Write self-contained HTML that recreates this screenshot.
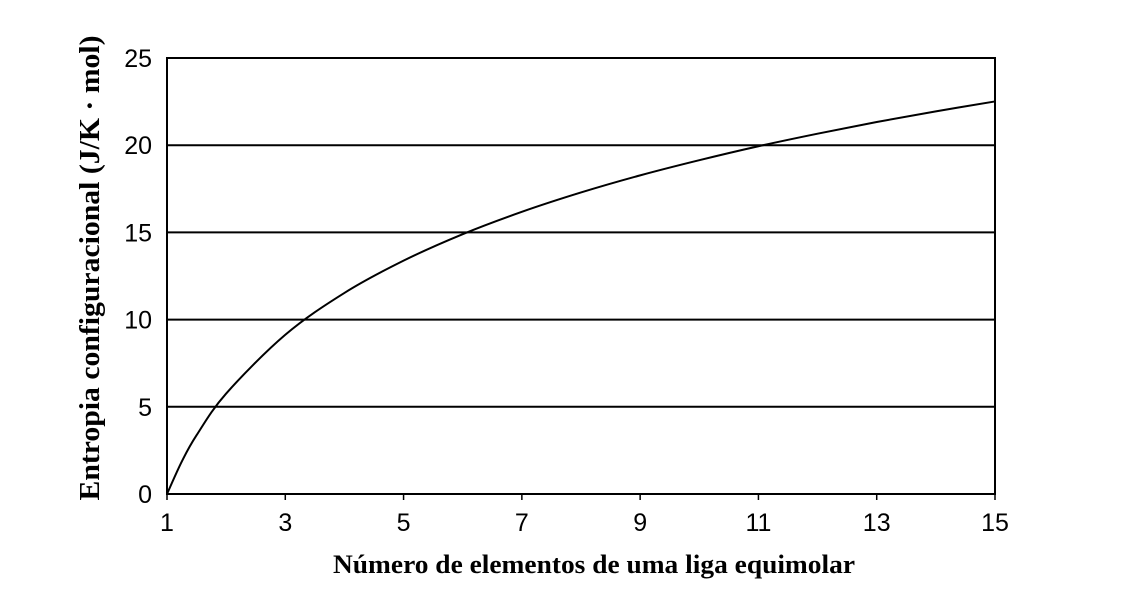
<!DOCTYPE html>
<html><head><meta charset="utf-8"><style>
body{margin:0;background:#fff;}
svg{display:block;}
</style></head><body>
<svg width="1141" height="611" id="chart" xmlns="http://www.w3.org/2000/svg">
<g id="grid"></g>
<rect x="167" y="58" width="828" height="436" fill="none" stroke="#000" stroke-width="2"/>
<g id="ticks" font-family="Liberation Sans, sans-serif" font-size="25" fill="#000"></g>
<path id="curve" fill="none" stroke="#000" stroke-width="2"/>
<text transform="translate(99,268) rotate(-90)" text-anchor="middle" font-family="Liberation Serif, serif" font-weight="bold" font-size="29" textLength="465" lengthAdjust="spacingAndGlyphs">Entropia configuracional  (J/K · mol)</text>
<text x="594" y="573" text-anchor="middle" font-family="Liberation Serif, serif" font-weight="bold" font-size="26" textLength="522" lengthAdjust="spacingAndGlyphs">Número de elementos de uma liga equimolar</text>
</svg>
<script>
const nValues=[1,1.25,1.5,2,3,4,5,6,7,8,9,10,11,12,13,14,15];
const entropyValues=[0,1.86,3.37,5.76,9.13,11.53,13.38,14.9,16.18,17.29,18.27,19.14,19.94,20.66,21.33,21.94,22.51];
const xTicks=[1,3,5,7,9,11,13,15];
const yTicks=[0,5,10,15,20,25];
const NS="http://www.w3.org/2000/svg";
const xs=v=>167+(v-1)/14*828;
const ys=v=>494-v/25*436;
const grid=document.getElementById('grid'),ticks=document.getElementById('ticks');
yTicks.forEach(t=>{
  if(t>0&&t<25){const l=document.createElementNS(NS,'line');
  
  
  l.setAttribute('x1',167);l.setAttribute('x2',995);l.setAttribute('y1',ys(t));l.setAttribute('y2',ys(t));
  l.setAttribute('stroke','#000');l.setAttribute('stroke-width','2');grid.appendChild(l);}
  const tx=document.createElementNS(NS,'text');
  
  
  tx.setAttribute('x',152);tx.setAttribute('y',ys(t)+9);tx.setAttribute('text-anchor','end');tx.textContent=t;ticks.appendChild(tx);
});
xTicks.forEach(t=>{
  const tx=document.createElementNS(NS,'text');
  
  
  tx.setAttribute('x',xs(t));tx.setAttribute('y',531);tx.setAttribute('text-anchor','middle');tx.textContent=t;ticks.appendChild(tx);
  const l=document.createElementNS(NS,'line');
  
  
  l.setAttribute('x1',xs(t));l.setAttribute('x2',xs(t));l.setAttribute('y1',494);l.setAttribute('y2',500);
  l.setAttribute('stroke','#000');l.setAttribute('stroke-width','1.5');ticks.appendChild(l);
});
const P=nValues.map((n,i)=>[xs(n),ys(entropyValues[i])]);
let d='M'+P[0][0]+','+P[0][1];
for(let i=0;i<P.length-1;i++){
  const p0=P[Math.max(0,i-1)],p1=P[i],p2=P[i+1],p3=P[Math.min(P.length-1,i+2)];
  const c1=[p1[0]+(p2[0]-p0[0])/6,p1[1]+(p2[1]-p0[1])/6];
  const c2=[p2[0]-(p3[0]-p1[0])/6,p2[1]-(p3[1]-p1[1])/6];
  d+=` C${c1[0]},${c1[1]} ${c2[0]},${c2[1]} ${p2[0]},${p2[1]}`;
}
document.getElementById('curve').setAttribute('d',d);
</script>
</body></html>
